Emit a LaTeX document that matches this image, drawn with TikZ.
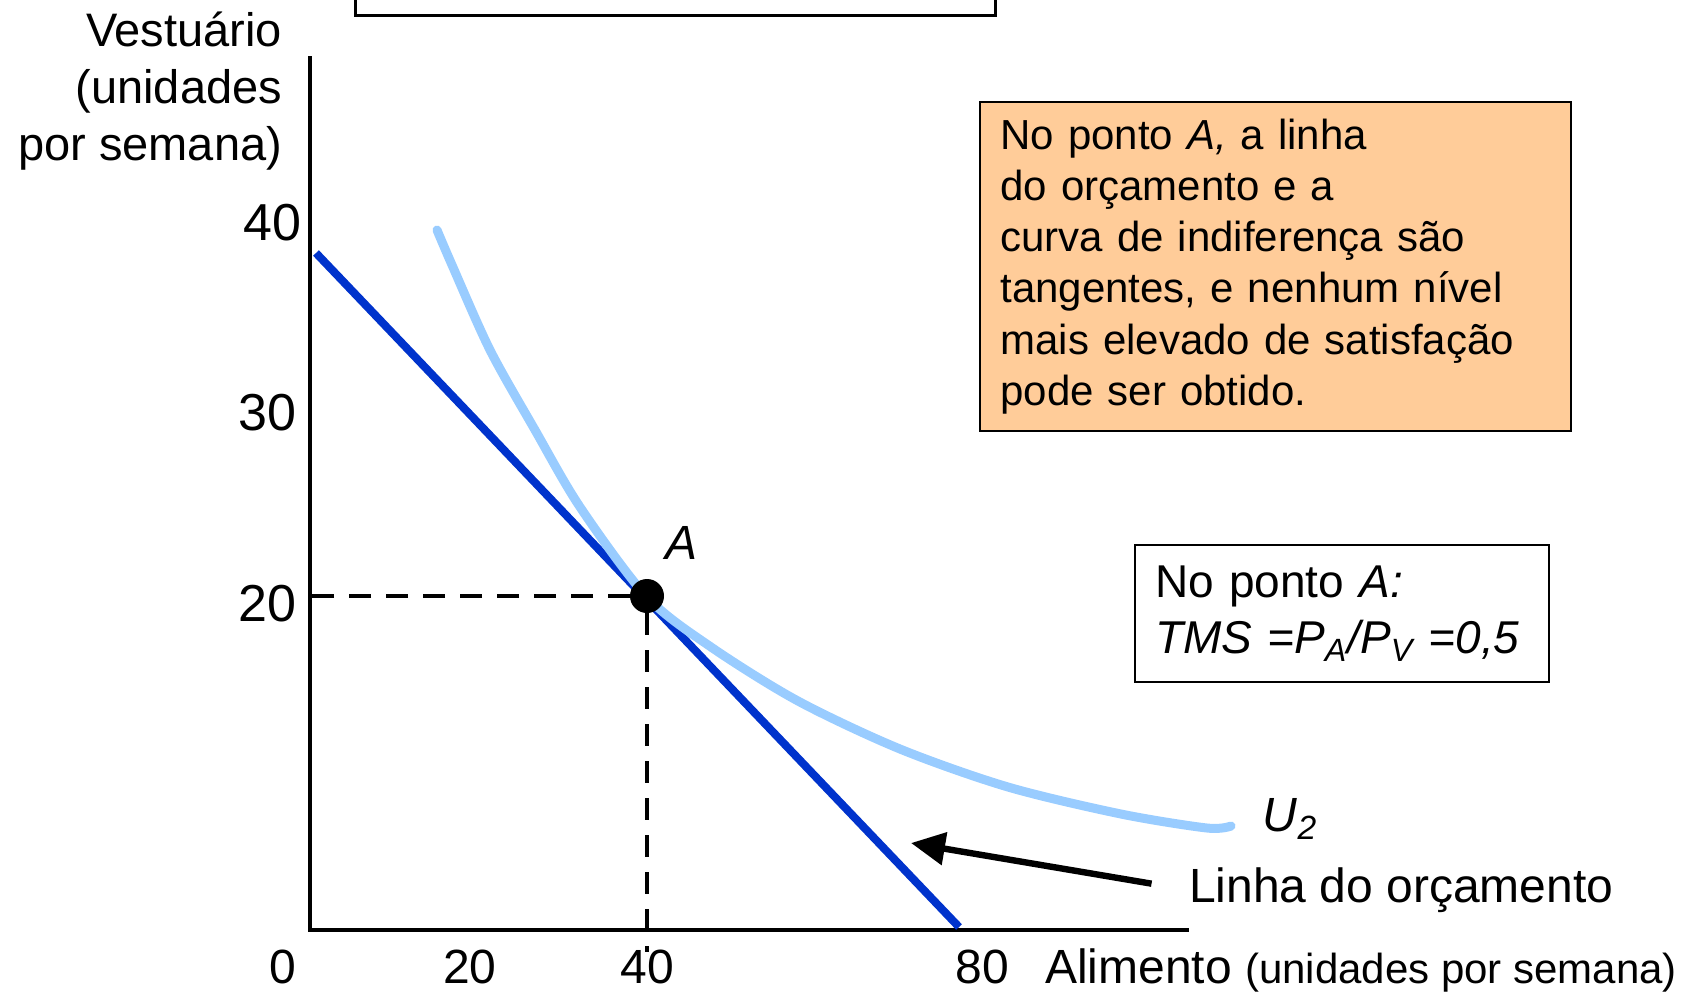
\documentclass[tikz,border=0pt]{standalone}
\usepackage{fontspec}
\setmainfont{Liberation Sans}
\usepackage{tikz}
\usetikzlibrary{arrows.meta,calc,positioning}
\definecolor{orcamento}{HTML}{0033CC}
\definecolor{indif}{HTML}{99CCFF}
\definecolor{laranja}{HTML}{FFCC99}

\begin{document}
\begin{tikzpicture}[x=0.5pt, y=-0.5pt]
	\tikzstyle{every node} = [inner sep=0pt, outer sep=0pt]
	\tikzstyle{tick} = [font=\fontsize{24}{28}\selectfont]
	\tikzstyle{caixa} = [draw=black, line width=1pt, anchor=north west, align=left, inner xsep=10pt]
\useasboundingbox (0,0) rectangle (1690,997);
% eixos
\coordinate (o) at (310,930);
\coordinate (ytop) at (310,56);
\coordinate (xend) at (1189,930);
	\path[draw, line width=2.2pt] (ytop) -- (o) -- (xend);
\node[tick, font=\fontsize{26}{30}\selectfont, anchor=east] (y40) at (301,223) {40};
\node[tick, font=\fontsize{26}{30}\selectfont, anchor=east] (y30) at (296,413) {30};
\node[tick, font=\fontsize{26}{30}\selectfont, anchor=east] (y20) at (296,604) {20};
\node[tick] (x0) at (283,967) {0};
\node[tick] (x20) at (470,967) {20};
\node[tick] (x40) at (647,967) {40};
\node[tick] (x80) at (982,967) {80};
\node[tick, anchor=east, align=right, font=\fontsize{23.5}{28.5}\selectfont] (ylab) at (282,91) {Vestuário\\(unidades\\por semana)};
\node[tick, anchor=west] (xlab) at (1045,970) {Alimento {\fontsize{21}{25}\selectfont(unidades por semana)}};
% caixa de cima
	\path[draw, line width=1.5pt] (355,-20) rectangle (995,15);
% linha do orcamento e curva
\coordinate (b1) at (316,253);
\coordinate (b2) at (959,927);
	\path[draw, orcamento, line width=4pt] (b1) -- (b2);
	\path[draw, indif, line width=4.5pt, line cap=round] plot[smooth, tension=0.5] coordinates {(437,230) (452,265) (490,350) (535,430) (580,507) (647,597) (711,647) (798,701) (900,749) (1008,787) (1121,814) (1207,828) (1231,826)};
\node[circle, fill=black, minimum size=17pt] (A) at (647,596) {};
	\path[draw, line width=2pt, dash pattern=on 11pt off 7.5pt] (A) -- (ytop |- A);
	\path[draw, line width=2pt, dash pattern=on 11pt off 7.5pt] (A) -- ($(A |- o)+(0,22)$);
\node[tick, above right=12pt and 3pt of A] (Alab) {\textit{A}};
\node[tick] (U2) at (1290,819) {\textit{U\textsubscript{2}}};
% textos
\node[caixa, fill=laranja, minimum width=295.5pt, minimum height=164.5pt, text width=275pt, font=\fontsize{21}{25.6}\selectfont] (nota) at (980,102) {No ponto \textit{A,} a linha\\do orçamento e a\\curva de indiferença são\\tangentes, e nenhum nível\\mais elevado de satisfação\\pode ser obtido.};
\node[caixa, fill=white, minimum width=207pt, minimum height=68.5pt, text width=187pt, font=\fontsize{23}{28}\selectfont] (tms) at (1135,545) {No ponto \textit{A:}\\\textit{TMS =P\textsubscript{A}/P\textsubscript{V} =0,5}};
\node[tick, anchor=west] (linha) at (1189,890) {Linha do orçamento};
\coordinate (alvo) at (911,843);
	\path[draw, line width=3.2pt, -{Triangle[length=17pt, width=16pt]}, shorten <=19pt] (linha.west) -- (alvo);
\end{tikzpicture}
\end{document}
